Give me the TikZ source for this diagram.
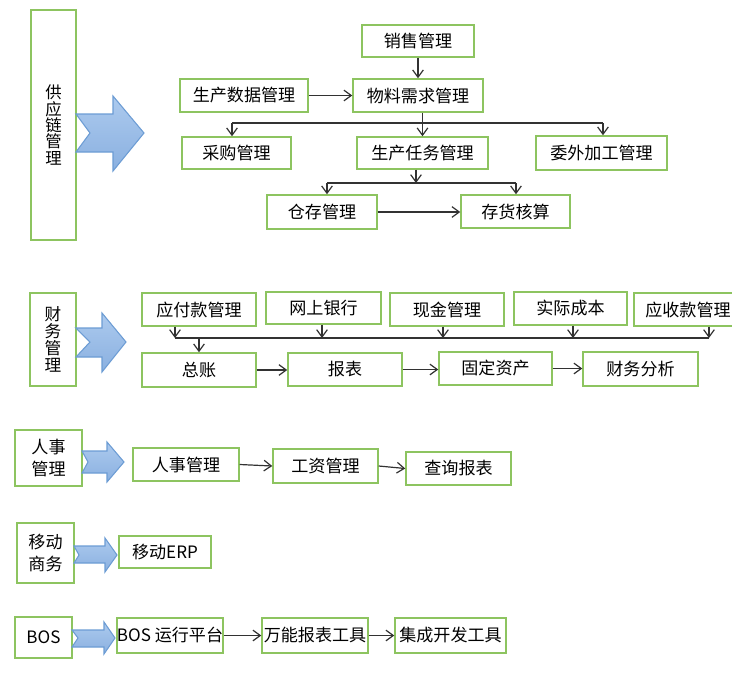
\documentclass[tikz,border=0pt]{standalone}
\usepackage{fontspec}
\setmainfont{Noto Sans CJK SC}
\usetikzlibrary{arrows.meta}
\definecolor{boxgreen}{RGB}{141,196,96}
\definecolor{arrtop}{RGB}{172,202,238}
\definecolor{arrbot}{RGB}{138,176,224}
\definecolor{arrdraw}{RGB}{108,156,212}
\definecolor{linegray}{RGB}{50,50,50}
\tikzset{
 bx/.style 2 args={draw=boxgreen, line width=1.1pt, fill=white, inner sep=0pt,
   minimum width={#1*0.75pt}, minimum height={#2*0.75pt},
   font=\fontsize{12.8}{15}\selectfont, align=center},
 conn/.style={draw=linegray, line width=0.9pt},
 arr/.style={conn, -{Straight Barb[length=5.5pt,width=8pt]}},
 bigarrow/.style={top color=arrtop, bottom color=arrbot, draw=arrdraw, line width=0.8pt, line join=miter},
}
\begin{document}
\begin{tikzpicture}[x={(0.75pt,0)}, y={(0,-0.75pt)}]
\useasboundingbox (0,0) rectangle (732,672);
\clip (0,0) rectangle (732,672);

% ---------- Supply chain ----------
\node[bx={45}{230}, font=\fontsize{12.3}{12.3}\selectfont] (scm) at (53.5,125) {供\\应\\链\\管\\理};
\path[bigarrow] (76,114) -- (113,114) -- (113,96) -- (144,133) -- (113,171) -- (113,152) -- (76,152) -- (90,133) -- cycle;
\node[bx={112}{32}] (xs) at (418,41) {销售管理};
\node[bx={128}{33}] (sc) at (244,95.5) {生产数据管理};
\node[bx={130}{33}] (wl) at (418,95.5) {物料需求管理};
\node[bx={109}{32}] (cg) at (236.5,153) {采购管理};
\node[bx={131}{32}] (rw) at (422.5,153) {生产任务管理};
\node[bx={131}{34}] (ww) at (601.5,153) {委外加工管理};
\node[bx={110}{34}] (cc) at (322,212) {仓存管理};
\node[bx={109}{33}] (ch) at (515.5,211.5) {存货核算};

\coordinate (s1) at (232,123);
\coordinate (s3) at (603,123);
\draw[arr] (xs) -- (wl);
\draw[arr] (sc) -- (wl);
\draw[conn] (s1) -- (s3);
\draw[arr] (s1) -- (s1 |- cg.north);
\draw[arr] (rw.north |- wl.south) -- (rw.north);
\draw[arr] (s3) -- (s3 |- ww.north);
\coordinate (t1) at (327,183);
\coordinate (t2) at (516,183);
\coordinate (rb) at (416,183);
\draw[arr] (rb |- rw.south) -- (rb);
\draw[conn] (t1) -- (t2);
\draw[arr] (t1) -- (t1 |- cc.north);
\draw[arr] (t2) -- (t2 |- ch.north);
\draw[arr] (cc.east) -- (cc.east -| ch.west);

% ---------- Finance ----------
\node[bx={46}{93}, font=\fontsize{12.5}{12.6}\selectfont] (fm) at (53,339.5) {财\\务\\管\\理};
\path[bigarrow] (76,328) -- (102,328) -- (102,313) -- (126,342) -- (102,372) -- (102,357) -- (76,357) -- (90,342) -- cycle;
\node[bx={114}{33}] (yf) at (199,309.5) {应付款管理};
\node[bx={115}{32}] (wy) at (323.5,308) {网上银行};
\node[bx={114}{33}] (xj) at (447,309.5) {现金管理};
\node[bx={113}{33}] (sj) at (570.5,308.5) {实际成本};
\node[bx={108}{33}] (ys) at (688,309.5) {应收款管理};
\node[bx={114}{34}] (zz) at (199,370) {总账};
\node[bx={114}{33}] (bb) at (345,369.5) {报表};
\node[bx={113}{33}] (gd) at (495.5,368.5) {固定资产};
\node[bx={115}{34}] (cw) at (640.5,369) {财务分析};

\coordinate (f1) at (175,338);
\coordinate (f2) at (322,338);
\coordinate (f3) at (443,338);
\coordinate (f4) at (573,338);
\coordinate (f5) at (709,338);
\draw[conn] (f1) -- (f5);
\draw[arr] (f1 |- yf.south) -- (f1);
\draw[arr] (f2 |- wy.south) -- (f2);
\draw[arr] (f3 |- xj.south) -- (f3);
\draw[arr] (f4 |- sj.south) -- (f4);
\draw[arr] (f5 |- ys.south) -- (f5);
\draw[arr] (zz.north |- f1) -- (zz.north);
\draw[arr] (zz.east) -- (zz.east -| bb.west);
\draw[arr] (bb.east) -- (bb.east -| gd.west);
\draw[arr] (gd.east) -- (gd.east -| cw.west);

% ---------- HR ----------
\node[bx={67}{56}, font=\fontsize{12.8}{17}\selectfont] (hr) at (48.5,458) {人事\\管理};
\path[bigarrow] (82,451) -- (107,451) -- (107,442) -- (124,462) -- (107,482) -- (107,473) -- (82,473) -- (88,462) -- cycle;
\node[bx={106}{33}] (hr1) at (186,464.5) {人事管理};
\node[bx={105}{34}] (gz) at (325.5,466) {工资管理};
\node[bx={105}{33}] (cx) at (458.5,468.5) {查询报表};
\draw[arr] (hr1.east) -- (gz.west);
\draw[arr] (gz.east) -- (cx.west);

% ---------- Mobile ----------
\node[bx={57}{60}, font=\fontsize{12.8}{16}\selectfont] (yd) at (45.5,553) {移动\\商务};
\path[bigarrow] (74,546) -- (105,546) -- (105,538) -- (117,555) -- (105,572) -- (105,563) -- (74,563) -- (79,555) -- cycle;
\node[bx={92}{32}] (ye) at (165,552) {移动ERP};

% ---------- BOS ----------
\node[bx={57}{41}] (bos) at (43.5,637.5) {BOS};
\path[bigarrow] (72,630) -- (104,630) -- (104,622) -- (115,638) -- (104,654) -- (104,647) -- (72,647) -- (78,638) -- cycle;
\node[bx={106}{35}] (p1) at (170,635.5) {BOS 运行平台};
\node[bx={106}{35}] (p2) at (315,635.5) {万能报表工具};
\node[bx={111}{35}] (p3) at (450.5,635.5) {集成开发工具};
\draw[arr] (p1.east) -- (p2.west);
\draw[arr] (p2.east) -- (p3.west);
\end{tikzpicture}
\end{document}
